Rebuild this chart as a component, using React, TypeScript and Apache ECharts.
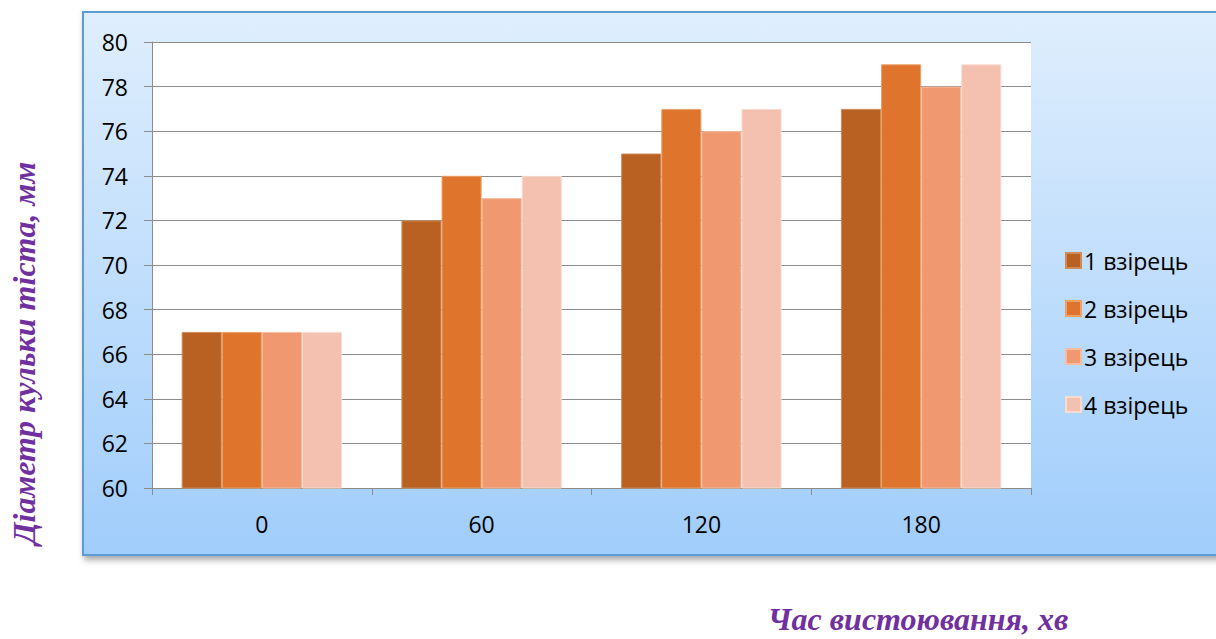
import React, { useEffect, useRef } from "react";
import * as echarts from "echarts";

const categories = ["0", "60", "120", "180"];
const seriesNames = ["1 взірець", "2 взірець", "3 взірець", "4 взірець"];
const sample1 = [67, 72, 75, 77];
const sample2 = [67, 74, 77, 79];
const sample3 = [67, 73, 76, 78];
const sample4 = [67, 74, 77, 79];
const colors = ["#B96122", "#DF752D", "#F09970", "#F4C1B0"];
const borderColors = ["#D08A5A", "#ECA06A", "#F7BC9F", "#F9DCD0"];
const yTitle = "Діаметр кульки тіста, мм";
const xTitle = "Час вистоювання, хв";

export default function App() {
  const ref = useRef<HTMLDivElement>(null);
  useEffect(() => {
    if (!ref.current) return;
    const chart = echarts.init(ref.current, null, { renderer: "svg" });
    const data = [sample1, sample2, sample3, sample4];
    const font = "'Open Sans', sans-serif";
    chart.setOption({
      animation: false,
      backgroundColor: "#ffffff",
      graphic: [
        {
          type: "rect",
          z: -10,
          shape: { x: 83, y: 12, width: 1150, height: 543 },
          style: {
            fill: new echarts.graphic.LinearGradient(0, 0, 0, 1, [
              { offset: 0, color: "#DFEEFD" },
              { offset: 1, color: "#A0CDFB" },
            ]),
            stroke: "#5B9BD5",
            lineWidth: 2,
            shadowBlur: 6,
            shadowOffsetX: 2,
            shadowOffsetY: 4,
            shadowColor: "rgba(0,0,0,0.35)",
          },
        },
        {
          type: "text",
          x: 24,
          y: 353,
          rotation: Math.PI / 2,
          style: {
            text: yTitle,
            fill: "#7030A0",
            font: "italic bold 32px 'Liberation Serif', serif",
            textAlign: "center",
            textVerticalAlign: "middle",
          },
        },
        {
          type: "text",
          x: 918,
          y: 619,
          style: {
            text: xTitle,
            fill: "#7030A0",
            font: "italic bold 32px 'Liberation Serif', serif",
            textAlign: "center",
            textVerticalAlign: "middle",
          },
        },
      ],
      grid: {
        left: 152,
        top: 42,
        width: 879,
        height: 446,
        show: true,
        backgroundColor: "#ffffff",
        borderWidth: 0,
      },
      legend: {
        orient: "vertical",
        left: 1060,
        top: 244,
        itemGap: 25,
        itemWidth: 15,
        itemHeight: 15,
        icon: "rect",
        textStyle: { fontSize: 23, color: "#000", fontFamily: font, padding: [0, 0, 0, -2] },
        data: seriesNames,
      },
      xAxis: {
        type: "category",
        data: categories,
        axisLine: { lineStyle: { color: "#8C8C8C", width: 1 } },
        axisTick: { show: true, length: 7, alignWithLabel: false, lineStyle: { color: "#8C8C8C" } },
        axisLabel: { fontSize: 23, color: "#000", margin: 24, fontFamily: font },
      },
      yAxis: {
        type: "value",
        min: 60,
        max: 80,
        interval: 2,
        axisLine: { show: true, lineStyle: { color: "#8C8C8C", width: 1 } },
        axisTick: { show: true, length: 8, lineStyle: { color: "#8C8C8C" } },
        splitLine: { lineStyle: { color: "#8C8C8C", width: 1 } },
        axisLabel: { fontSize: 23, color: "#000", margin: 24, fontFamily: font },
      },
      series: seriesNames.map((name, i) => ({
        name,
        type: "bar",
        data: data[i],
        barGap: "0%",
        barCategoryGap: "27%",
        itemStyle: { color: colors[i], borderColor: borderColors[i], borderWidth: 1 },
      })),
    });
    return () => chart.dispose();
  }, []);
  return <div ref={ref} style={{ position: "fixed", left: 0, top: 0, width: 1216, height: 639 }} />;
}
